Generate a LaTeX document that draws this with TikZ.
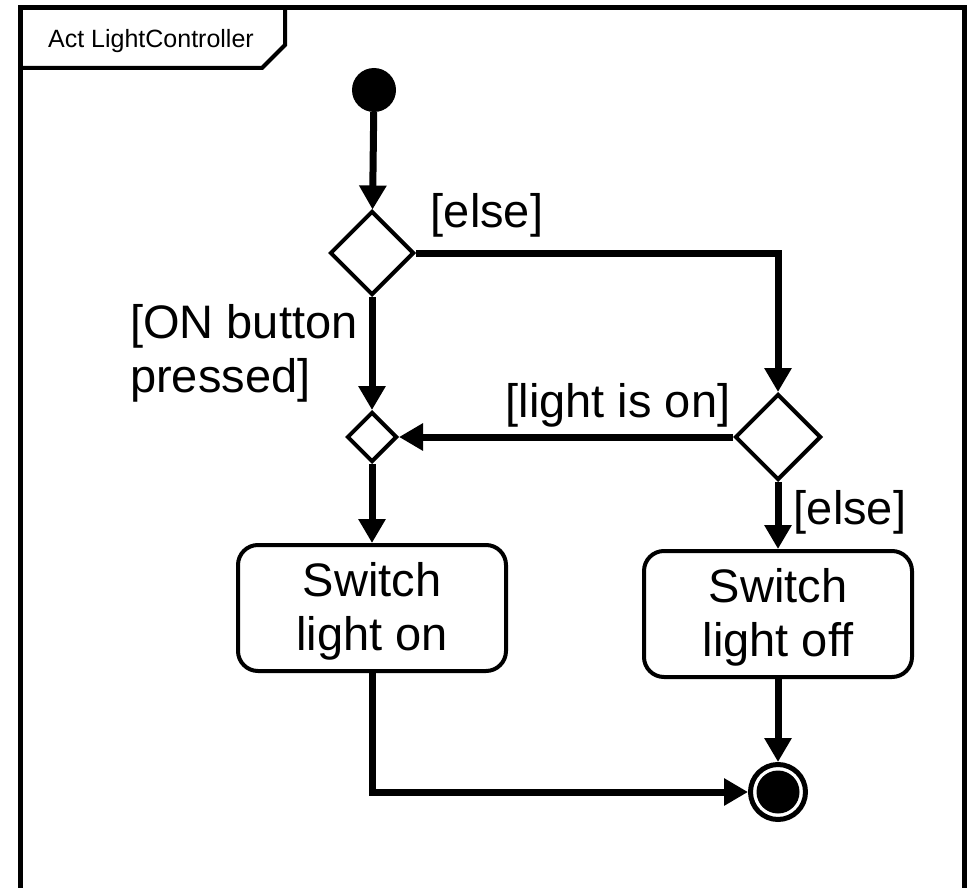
\documentclass[tikz,border=0pt]{standalone}
\usepackage{fontspec}
\setmainfont{Liberation Sans}
\usetikzlibrary{arrows.meta,shapes.geometric}

\tikzset{
  flow/.style={line width=7pt, -{Triangle[width=26pt,length=24pt]}},
  decision/.style={diamond, draw, line width=4pt, fill=white, inner sep=0pt,
    minimum width=#1, minimum height=#1},
  action/.style={rectangle, draw, line width=4pt, rounded corners=20pt,
    minimum width=268pt, minimum height=126pt, align=center,
    font=\fontsize{47}{54}\selectfont},
  guard/.style={font=\fontsize{47}{54}\selectfont, inner sep=0pt},
}

\begin{document}
\begin{tikzpicture}[x=1pt,y=-1pt]
\useasboundingbox (0,0) rectangle (969,888);
% frame and its name tab
\draw[line width=5pt] (20,900) -- (20,8) -- (964,8) -- (964,900);
\draw[line width=4pt] (20,68) -- (262,68) -- (285,45) -- (285,8);
\node[font=\fontsize{25}{30}\selectfont] (title) at (151,41) {Act LightController};

% nodes
\node[circle, fill, minimum size=44pt, inner sep=0pt] (start) at (374,90) {};
\node[decision=84pt] (d1) at (372,253) {};
\node[decision=86pt] (d2) at (778,437) {};
\node[decision=50pt] (merge) at (372,437) {};
\node[action] (act1) at (372,608) {\rule{0pt}{40pt}Switch\\light on};
\node[action] (act2) at (778,614) {\rule{0pt}{40pt}Switch\\light off};
\node[circle, draw, line width=5pt, minimum size=55pt, inner sep=0pt] (final) at (778,792) {};
\node[circle, fill, minimum size=43pt, inner sep=0pt] (finaldot) at (final) {};

% guards
\node[guard] (g1) at (487,215) {[else]};
\node[guard, align=left, anchor=west] (g2) at (130,353) {[ON button\\pressed]};
\node[guard] (g3) at (618,405) {[light is on]};
\node[guard] (g4) at (850,512) {[else]};

% flows
\draw[flow] (start) -- (d1);
\draw[flow] (d1.east) -| (d2.north);
\draw[flow] (d1.south) -- (merge.north);
\draw[flow] (d2.west) -- (merge.east);
\draw[flow] (merge.south) -- (act1.north);
\draw[flow] (d2.south) -- (act2.north);
\draw[flow] (act2.south) -- (final.north);
\draw[flow] (act1.south) |- (final.west);
\end{tikzpicture}
\end{document}
